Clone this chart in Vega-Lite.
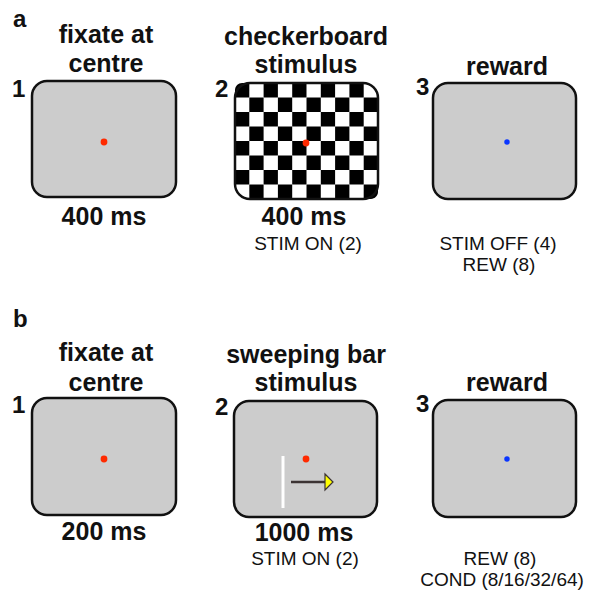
{
  "$schema": "https://vega.github.io/schema/vega-lite/v6.json",
  "width": 589,
  "height": 592,
  "padding": 0,
  "autosize": {"type": "none"},
  "background": "white",
  "config": {"view": {"stroke": null}, "text": {"font": "Liberation Sans"}},
  "datasets": {
    "boxes": [
      {"panel": "a", "step": 1, "kind": "grey", "x1": 32, "x2": 176, "y1": 81, "y2": 197},
      {"panel": "a", "step": 2, "kind": "checker", "x1": 235, "x2": 378, "y1": 83, "y2": 199},
      {"panel": "a", "step": 3, "kind": "grey", "x1": 433, "x2": 576, "y1": 83, "y2": 199},
      {"panel": "b", "step": 1, "kind": "grey", "x1": 32, "x2": 176, "y1": 398, "y2": 515},
      {"panel": "b", "step": 2, "kind": "grey", "x1": 234, "x2": 377, "y1": 401, "y2": 517},
      {"panel": "b", "step": 3, "kind": "grey", "x1": 433, "x2": 576, "y1": 400, "y2": 517}
    ],
    "cells": [
      {"r": 0, "c": 0}, {"r": 0, "c": 2}, {"r": 0, "c": 4}, {"r": 0, "c": 6}, {"r": 0, "c": 8},
      {"r": 1, "c": 1}, {"r": 1, "c": 3}, {"r": 1, "c": 5}, {"r": 1, "c": 7}, {"r": 1, "c": 9},
      {"r": 2, "c": 0}, {"r": 2, "c": 2}, {"r": 2, "c": 4}, {"r": 2, "c": 6}, {"r": 2, "c": 8},
      {"r": 3, "c": 1}, {"r": 3, "c": 3}, {"r": 3, "c": 5}, {"r": 3, "c": 7}, {"r": 3, "c": 9},
      {"r": 4, "c": 0}, {"r": 4, "c": 2}, {"r": 4, "c": 4}, {"r": 4, "c": 6}, {"r": 4, "c": 8},
      {"r": 5, "c": 1}, {"r": 5, "c": 3}, {"r": 5, "c": 5}, {"r": 5, "c": 7}, {"r": 5, "c": 9},
      {"r": 6, "c": 0}, {"r": 6, "c": 2}, {"r": 6, "c": 4}, {"r": 6, "c": 6}, {"r": 6, "c": 8},
      {"r": 7, "c": 1}, {"r": 7, "c": 3}, {"r": 7, "c": 5}, {"r": 7, "c": 7}, {"r": 7, "c": 9}
    ],
    "dots": [
      {"x": 104, "y": 142, "kind": "fixation"},
      {"x": 306, "y": 143, "kind": "fixation"},
      {"x": 507, "y": 142, "kind": "reward"},
      {"x": 104, "y": 459, "kind": "fixation"},
      {"x": 306, "y": 459, "kind": "fixation"},
      {"x": 507, "y": 459, "kind": "reward"}
    ],
    "bar": [{"x": 283, "y1": 456, "y2": 508}],
    "arrow": [{"x1": 291, "x2": 326, "y": 482}],
    "head": [{"x": 329, "y": 482}],
    "texts": [
      {"t": "fixate at", "x": 106, "y": 43, "role": "title"},
      {"t": "centre", "x": 106, "y": 72, "role": "title"},
      {"t": "checkerboard", "x": 306, "y": 45, "role": "title"},
      {"t": "stimulus", "x": 306, "y": 73, "role": "title"},
      {"t": "reward", "x": 507, "y": 75, "role": "title"},
      {"t": "400 ms", "x": 104, "y": 225, "role": "title"},
      {"t": "400 ms", "x": 304, "y": 225, "role": "title"},
      {"t": "fixate at", "x": 106, "y": 361, "role": "title"},
      {"t": "centre", "x": 106, "y": 391, "role": "title"},
      {"t": "sweeping bar", "x": 306, "y": 363, "role": "title"},
      {"t": "stimulus", "x": 306, "y": 391, "role": "title"},
      {"t": "reward", "x": 507, "y": 391, "role": "title"},
      {"t": "200 ms", "x": 104, "y": 540, "role": "title"},
      {"t": "1000 ms", "x": 304, "y": 541, "role": "title"},
      {"t": "a", "x": 13, "y": 27, "role": "label"},
      {"t": "1", "x": 12, "y": 97, "role": "label"},
      {"t": "2", "x": 215, "y": 97, "role": "label"},
      {"t": "3", "x": 416, "y": 95, "role": "label"},
      {"t": "b", "x": 13, "y": 327, "role": "label"},
      {"t": "1", "x": 12, "y": 413, "role": "label"},
      {"t": "2", "x": 215, "y": 415, "role": "label"},
      {"t": "3", "x": 416, "y": 412, "role": "label"},
      {"t": "STIM ON (2)", "x": 308, "y": 250, "role": "code"},
      {"t": "STIM OFF (4)", "x": 498, "y": 250, "role": "code"},
      {"t": "REW (8)", "x": 499, "y": 271, "role": "code"},
      {"t": "STIM ON (2)", "x": 305, "y": 565, "role": "code"},
      {"t": "REW (8)", "x": 500, "y": 565, "role": "code"},
      {"t": "COND (8/16/32/64)", "x": 502, "y": 586, "role": "code"}
    ]
  },
  "resolve": {"scale": {"x": "independent", "y": "independent"}},
  "layer": [
    {
      "data": {"name": "boxes"},
      "mark": {"type": "rect", "cornerRadius": 15},
      "encoding": {
        "x": {"field": "x1", "type": "quantitative", "scale": {"domain": [0, 589], "nice": false, "zero": false}, "axis": null},
        "x2": {"field": "x2"},
        "y": {"field": "y1", "type": "quantitative", "scale": {"domain": [0, 592], "nice": false, "zero": false, "reverse": true}, "axis": null},
        "y2": {"field": "y2"},
        "fill": {"field": "kind", "type": "nominal", "scale": {"domain": ["grey", "checker"], "range": ["#cccccc", "#ffffff"]}, "legend": null}
      }
    },
    {
      "data": {"name": "cells"},
      "encoding": {
        "x": {"field": "c", "type": "ordinal", "scale": {"domain": [0,1,2,3,4,5,6,7,8,9], "range": [235, 378], "paddingInner": 0, "paddingOuter": 0}, "axis": null},
        "y": {"field": "r", "type": "ordinal", "scale": {"domain": [0,1,2,3,4,5,6,7], "range": [83, 199], "paddingInner": 0, "paddingOuter": 0}, "axis": null}
      },
      "layer": [
        {"transform": [{"filter": "!(datum.r == 0 && datum.c == 0) && !(datum.r == 7 && datum.c == 9)"}], "mark": {"type": "rect", "fill": "#000000"}},
        {"transform": [{"filter": "datum.r == 0 && datum.c == 0"}], "mark": {"type": "rect", "fill": "#000000", "cornerRadiusTopLeft": 14}},
        {"transform": [{"filter": "datum.r == 7 && datum.c == 9"}], "mark": {"type": "rect", "fill": "#000000", "cornerRadiusBottomRight": 14}}
      ]
    },
    {
      "layer": [
        {
          "data": {"name": "boxes"},
          "mark": {"type": "rect", "cornerRadius": 15, "fill": "#ffffff", "fillOpacity": 0, "stroke": "#111111", "strokeWidth": 2.5},
          "encoding": {
            "x": {"field": "x1", "type": "quantitative", "scale": {"domain": [0, 589], "nice": false, "zero": false}, "axis": null},
            "x2": {"field": "x2"},
            "y": {"field": "y1", "type": "quantitative", "scale": {"domain": [0, 592], "nice": false, "zero": false, "reverse": true}, "axis": null},
            "y2": {"field": "y2"}
          }
        },
        {
          "data": {"name": "dots"},
          "mark": {"type": "point", "filled": true, "opacity": 1},
          "encoding": {
            "x": {"field": "x", "type": "quantitative", "scale": {"domain": [0, 589], "nice": false, "zero": false}, "axis": null},
            "y": {"field": "y", "type": "quantitative", "scale": {"domain": [0, 592], "nice": false, "zero": false, "reverse": true}, "axis": null},
            "color": {"field": "kind", "type": "nominal", "scale": {"domain": ["fixation", "reward"], "range": ["#ff2a00", "#0a36ff"]}, "legend": null},
            "size": {"field": "kind", "type": "nominal", "scale": {"domain": ["fixation", "reward"], "range": [46, 30]}, "legend": null}
          }
        },
        {
          "data": {"name": "bar"},
          "mark": {"type": "rule", "color": "#ffffff", "strokeWidth": 3},
          "encoding": {
            "x": {"field": "x", "type": "quantitative", "scale": {"domain": [0, 589], "nice": false, "zero": false}, "axis": null},
            "y": {"field": "y1", "type": "quantitative", "scale": {"domain": [0, 592], "nice": false, "zero": false, "reverse": true}, "axis": null},
            "y2": {"field": "y2"}
          }
        },
        {
          "data": {"name": "arrow"},
          "mark": {"type": "rule", "color": "#3b3333", "strokeWidth": 2.5},
          "encoding": {
            "x": {"field": "x1", "type": "quantitative", "scale": {"domain": [0, 589], "nice": false, "zero": false}, "axis": null},
            "x2": {"field": "x2"},
            "y": {"field": "y", "type": "quantitative", "scale": {"domain": [0, 592], "nice": false, "zero": false, "reverse": true}, "axis": null}
          }
        },
        {
          "data": {"name": "head"},
          "mark": {"type": "point", "shape": "M-0.5,-1L0.5,0L-0.5,1Z", "filled": true, "fill": "#ffff00", "stroke": "#3b3333", "strokeWidth": 1.2, "opacity": 1, "size": 256},
          "encoding": {
            "x": {"field": "x", "type": "quantitative", "scale": {"domain": [0, 589], "nice": false, "zero": false}, "axis": null},
            "y": {"field": "y", "type": "quantitative", "scale": {"domain": [0, 592], "nice": false, "zero": false, "reverse": true}, "axis": null}
          }
        },
        {
          "data": {"name": "texts"},
          "encoding": {
            "x": {"field": "x", "type": "quantitative", "scale": {"domain": [0, 589], "nice": false, "zero": false}, "axis": null},
            "y": {"field": "y", "type": "quantitative", "scale": {"domain": [0, 592], "nice": false, "zero": false, "reverse": true}, "axis": null},
            "text": {"field": "t"}
          },
          "layer": [
            {"transform": [{"filter": "datum.role == 'title'"}], "mark": {"type": "text", "font": "Liberation Sans", "fontWeight": "bold", "fontSize": 25, "align": "center", "baseline": "alphabetic", "color": "#111111"}},
            {"transform": [{"filter": "datum.role == 'label'"}], "mark": {"type": "text", "font": "Liberation Sans", "fontWeight": "bold", "fontSize": 24, "align": "left", "baseline": "alphabetic", "color": "#111111"}},
            {"transform": [{"filter": "datum.role == 'code'"}], "mark": {"type": "text", "font": "Liberation Sans", "fontWeight": "normal", "fontSize": 19, "align": "center", "baseline": "alphabetic", "color": "#111111"}}
          ]
        }
      ]
    }
  ]
}
